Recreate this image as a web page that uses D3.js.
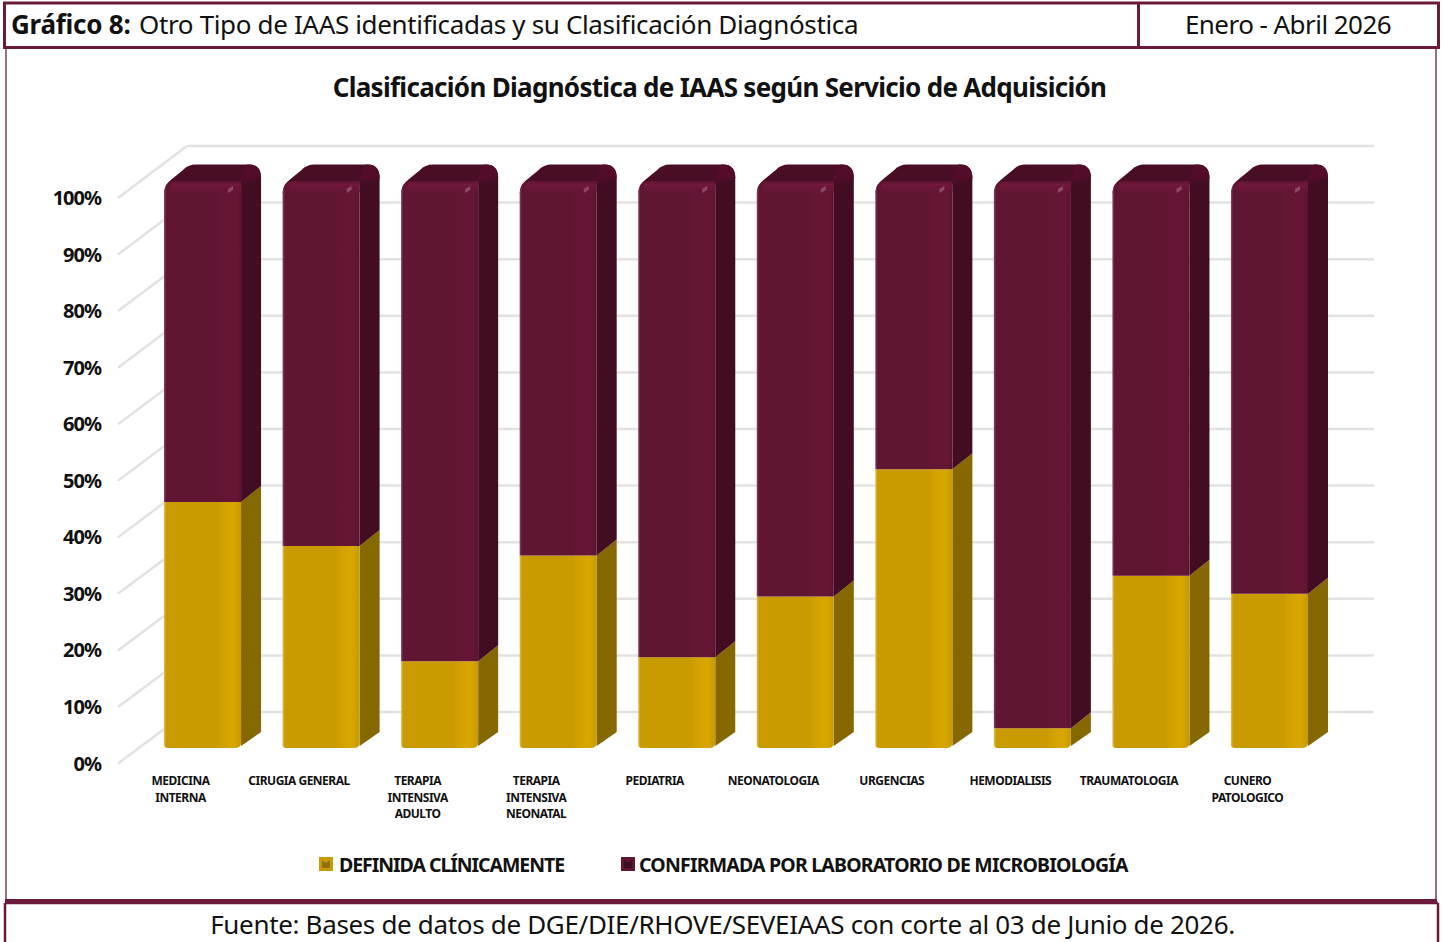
<!DOCTYPE html>
<html><head><meta charset="utf-8">
<script src="https://cdnjs.cloudflare.com/ajax/libs/d3/7.8.5/d3.min.js"></script>
<style>
html,body{margin:0;padding:0;background:#fff;overflow:hidden}
text{font-family:"Noto Sans","Open Sans",sans-serif;fill:#111}
</style></head><body><div id="c"></div>
<script>
const categories=[["MEDICINA","INTERNA"],["CIRUGIA GENERAL"],["TERAPIA","INTENSIVA","ADULTO"],["TERAPIA","INTENSIVA","NEONATAL"],["PEDIATRIA"],["NEONATOLOGIA"],["URGENCIAS"],["HEMODIALISIS"],["TRAUMATOLOGIA"],["CUNERO","PATOLOGICO"]];
const definida=[43.7,35.9,15.4,34.2,16.1,26.9,49.5,3.5,30.6,27.4];
const confirmada=definida.map(d=>+(100-d).toFixed(1));
const seriesNames=["DEFINIDA CLÍNICAMENTE","CONFIRMADA POR LABORATORIO DE MICROBIOLOGÍA"];
const ticks=[0,10,20,30,40,50,60,70,80,90,100];
const W=1443,H=942,border="#6b1a3c";
const svg=d3.select("#c").append("svg").attr("width",W).attr("height",H).style("display","block");
const defs=svg.append("defs");
function grad(id,stops){const g=defs.append("linearGradient").attr("id",id);
 stops.forEach(([o,c])=>g.append("stop").attr("offset",o).attr("stop-color",c));}
grad("gold",[[0,"#dcc060"],[.03,"#c99b00"],[.68,"#c99b00"],[.78,"#d4a300"],[.9,"#d8a700"],[1,"#c89a00"]]);
grad("wine",[[0,"#82496a"],[.03,"#611232"],[.68,"#611232"],[.78,"#651335"],[.9,"#661435"],[1,"#5f1131"]]);
const vg=defs.append("linearGradient").attr("id","edge").attr("x1",0).attr("x2",0).attr("y1",0).attr("y2",1);
vg.append("stop").attr("offset",0).attr("stop-color","#5c1230");
vg.append("stop").attr("offset",.3).attr("stop-color","#701a3c");
vg.append("stop").attr("offset",.6).attr("stop-color","#6c1738");
vg.append("stop").attr("offset",1).attr("stop-color","#611232");
const fl=defs.append("filter").attr("id","soft").attr("x","-5%").attr("y","-5%").attr("width","110%").attr("height","110%");
fl.append("feGaussianBlur").attr("stdDeviation",.7);

const y=d3.scaleLinear().domain([0,100]).range([748,185]);
const x=d3.scaleBand().domain(d3.range(categories.length)).range([164,1308]).paddingInner(.35).paddingOuter(0);
const wallY=d3.scaleLinear().domain([0,100]).range([712,146]);
const frontY=d3.scaleLinear().domain([0,100]).range([763.5,198]);
const dx=20,dy=-16,wallL=187,wallR=1374,frontL=118;

// wall
const gw=svg.append("g").attr("fill","none").attr("stroke","#e2e2e2").attr("stroke-width",2.5);
gw.selectAll("line.h").data(ticks).join("line").attr("x1",wallL).attr("x2",wallR).attr("y1",d=>wallY(d)).attr("y2",d=>wallY(d));
gw.selectAll("line.d").data(ticks).join("line").attr("x1",frontL).attr("x2",wallL).attr("y1",d=>frontY(d)).attr("y2",d=>wallY(d));

// bars
const bars=svg.append("g").attr("filter","url(#soft)");
const bw=x.bandwidth();
categories.forEach((c,i)=>{
 const x0=x(i),x1=x0+bw,yb=y(0),ym=y(definida[i]),yt=y(definida[i]+confirmada[i]);
 const g=bars.append("g");
 // gold side
 g.append("path").attr("fill","#856700").attr("d",`M${x1},${yb-2}L${x1+dx},${yb+dy}L${x1+dx},${ym+dy}L${x1},${ym}Z`);
 // wine side
 g.append("path").attr("fill","#430c24").attr("d",`M${x1},${ym}L${x1+dx},${ym+dy}L${x1+dx},${yt-8}L${x1},${yt-4}Z`);
 // top
 g.append("path").attr("fill","#4a0e28").attr("d",`M${x0},${yt+8}Q${x0+1},${yt-1} ${x0+8},${yt-6}L${x0+19},${yt-15}Q${x0+24},${yt-20.5} ${x0+32},${yt-20.5}L${x1+8},${yt-20.5}Q${x1+dx},${yt-20.5} ${x1+dx},${yt-7}L${x1+dx-3},${yt-5}L${x1},${yt}Z`);
 g.append("path").attr("fill","#52102c").attr("d",`M${x1-2},${yt-4}L${x1+6},${yt-20.5}L${x1+8},${yt-20.5}Q${x1+dx},${yt-20.5} ${x1+dx},${yt-7}L${x1+1},${yt-5}Z`);
 // gold front
 g.append("path").attr("fill","url(#gold)").attr("d",`M${x0},${ym}L${x1},${ym}L${x1},${yb-4}Q${x1-1},${yb} ${x1-6},${yb}L${x0+4},${yb}Q${x0},${yb} ${x0},${yb-3}Z`);
 // wine front
 g.append("path").attr("fill","url(#wine)").attr("d",`M${x0},${ym}L${x0},${yt+9}Q${x0},${yt-4} ${x0+11},${yt-4}L${x1},${yt-4}L${x1},${ym}Z`);
 // top edge highlight + corner glint
 g.append("path").attr("fill","url(#edge)").attr("d",`M${x0+5},${yt+7}Q${x0+6},${yt-4} ${x0+11},${yt-4}L${x1},${yt-4}L${x1},${yt+7}Z`);
 g.append("path").attr("fill","#8c4a68").attr("d",`M${x1-13},${yt+4}L${x1-8},${yt+1}L${x1-8},${yt+5}L${x1-13},${yt+8}Z`);
});

// y labels
svg.append("g").selectAll("text").data(ticks).join("text")
 .attr("x",101).attr("y",d=>frontY(d)+7).attr("text-anchor","end")
 .attr("font-size",20).attr("font-weight",700).style("letter-spacing","-1px").text(d=>d+"%");

// category labels
const cl=svg.append("g");
categories.forEach((c,i)=>{
 c.forEach((t,j)=>cl.append("text").attr("x",x(i)+16.5).attr("y",785+j*16.5).attr("text-anchor","middle")
  .attr("font-size",12).attr("font-weight",700).style("letter-spacing","-0.5px").text(t));
});

// legend
const lg=svg.append("g");
[[319,339,"#c99b00","#8f6f00",-1.05],[621,639,"#611232","#3e0a21",-0.8]].forEach(([sx,tx,c,c2,ls],i)=>{
 const m=lg.append("g").attr("filter","url(#soft)");
 m.append("rect").attr("x",sx).attr("y",857).attr("width",14).attr("height",14).attr("fill",c);
 m.append("path").attr("fill",c2).attr("d",`M${sx+3},${860}L${sx+7},${863}L${sx+11},${860}L${sx+11},${868}L${sx+3},${868}Z`);
 lg.append("text").attr("x",tx).attr("y",871.5).attr("font-size",19.5).attr("font-weight",700).style("letter-spacing",ls+"px").text(seriesNames[i]);
});

// title
svg.append("text").attr("x",719.5).attr("y",97).attr("text-anchor","middle").attr("font-size",26).attr("font-weight",700).style("letter-spacing","-0.7px").text("Clasificación Diagnóstica de IAAS según Servicio de Adquisición");

// frames
const fr=svg.append("g").attr("fill","none").attr("stroke",border);
fr.append("path").attr("stroke","#9c6f85").attr("stroke-width",2).attr("d","M6,48V899M1436,48V899");
fr.append("path").attr("stroke-width",3).attr("d","M4.5,3H1438.5V47.5H4.5ZM1138.5,3V47.5");
fr.append("path").attr("stroke-width",3).attr("d","M5,900.5H1437");
fr.append("path").attr("stroke-width",2.5).attr("d","M5,903H1438M5,903V942M1438,903V942");

svg.append("text").attr("x",11).attr("y",34).attr("font-size",26).attr("font-weight",700).style("letter-spacing","-0.25px").text("Gráfico 8:");
svg.append("text").attr("x",139).attr("y",34).attr("font-size",26).style("letter-spacing","-0.35px").text("Otro Tipo de IAAS identificadas y su Clasificación Diagnóstica");
svg.append("text").attr("x",1288).attr("y",34).attr("text-anchor","middle").attr("font-size",26).style("letter-spacing","-0.55px").text("Enero - Abril 2026");
svg.append("text").attr("x",722.5).attr("y",934).attr("text-anchor","middle").attr("font-size",26).style("letter-spacing","-0.33px").text("Fuente: Bases de datos de DGE/DIE/RHOVE/SEVEIAAS con corte al 03 de Junio de 2026.");
</script></body></html>
